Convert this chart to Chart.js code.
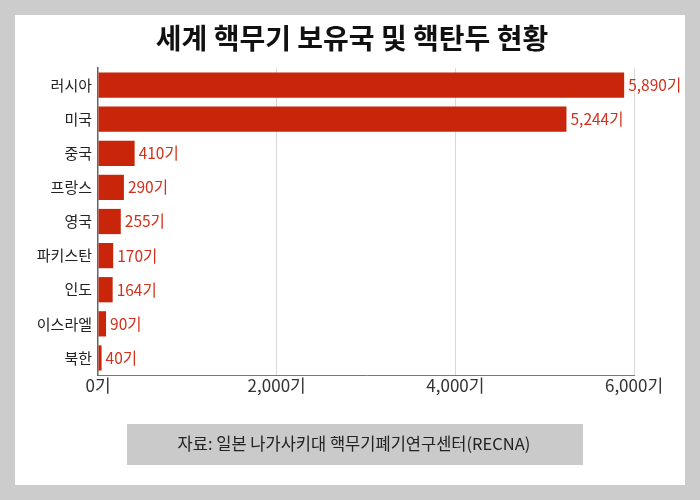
<!DOCTYPE html>
<html>
<head>
<meta charset="utf-8">
<script src="https://cdn.jsdelivr.net/npm/chart.js@4"></script>
<style>
  html, body { margin: 0; padding: 0; background: #cccccc; }
  #wrap { position: relative; width: 700px; height: 500px; }
  canvas { display: block; }
</style>
</head>
<body>
<div id="wrap"><canvas id="myChart" width="700" height="500"></canvas></div>
<script>
//data
const countries = ['러시아', '미국', '중국', '프랑스', '영국', '파키스탄', '인도', '이스라엘', '북한'];
const warheads = [5890, 5244, 410, 290, 255, 170, 164, 90, 40];
const xTicks = [0, 2000, 4000, 6000];
const titleText = '세계 핵무기 보유국 및 핵탄두 현황';
const sourceText = '자료: 일본 나가사키대 핵무기폐기연구센터(RECNA)';

const FONT = '"Noto Sans CJK KR", "Noto Sans", sans-serif';
const RED = '#c8250a';

const fmt = (v) => v.toLocaleString('en-US') + '기';

// panel, title, source box + value labels
const frame = {
    id: 'frame',
    beforeDraw(chart) {
        const ctx = chart.ctx;
        ctx.save();
        ctx.fillStyle = '#cccccc';
        ctx.fillRect(0, 0, 700, 500);
        ctx.fillStyle = '#ffffff';
        ctx.fillRect(15, 15, 670, 470);
        ctx.fillStyle = '#111';
        ctx.font = 'bold 28px ' + FONT;
        ctx.textAlign = 'center';
        ctx.textBaseline = 'middle';
        ctx.fillText(titleText, 352, 38);
        ctx.fillStyle = '#cacaca';
        ctx.fillRect(127, 424, 456, 41);
        ctx.fillStyle = '#222';
        ctx.font = '16.5px ' + FONT;
        ctx.fillText(sourceText, 354, 444);
        ctx.restore();
    },
    afterDatasetsDraw(chart) {
        const ctx = chart.ctx;
        const meta = chart.getDatasetMeta(0);
        ctx.save();
        ctx.fillStyle = '#d2301a';
        ctx.font = '15.5px ' + FONT;
        ctx.textAlign = 'left';
        ctx.textBaseline = 'middle';
        meta.data.forEach((bar, i) => {
            ctx.fillText(fmt(warheads[i]), bar.x + 4, bar.y);
        });
        ctx.restore();
    }
};

new Chart(document.getElementById('myChart'), {
    type: 'bar',
    data: {
        labels: countries,
        datasets: [{
            data: warheads,
            backgroundColor: RED,
            borderWidth: 0,
            categoryPercentage: 1,
            barPercentage: 0.74
        }]
    },
    plugins: [frame],
    options: {
        indexAxis: 'y',
        responsive: false,
        animation: false,
        layout: { padding: { top: 68, right: 66, bottom: 95, left: 0 } },
        plugins: { legend: { display: false }, tooltip: { enabled: false } },
        scales: {
            x: {
                min: 0,
                max: 6000,
                afterBuildTicks: (s) => { s.ticks = xTicks.map(v => ({ value: v })); },
                afterFit: (s) => { s.height = 30; },
                ticks: {
                    color: '#333',
                    font: { family: FONT, size: 17 },
                    padding: 0,
                    maxRotation: 0,
                    callback: (v) => fmt(v)
                },
                grid: {
                    color: (c) => c.tick && c.tick.value === 0 ? 'rgba(0,0,0,0)' : '#d8d8d8',
                    drawTicks: false
                },
                border: { display: true, color: '#777', width: 1 }
            },
            y: {
                afterFit: (s) => { s.width = 98; },
                ticks: {
                    color: '#222',
                    font: { family: FONT, size: 15 },
                    padding: 6
                },
                grid: { display: false, drawTicks: false },
                border: { display: true, color: '#666', width: 1.5 }
            }
        }
    }
});
</script>
</body>
</html>
